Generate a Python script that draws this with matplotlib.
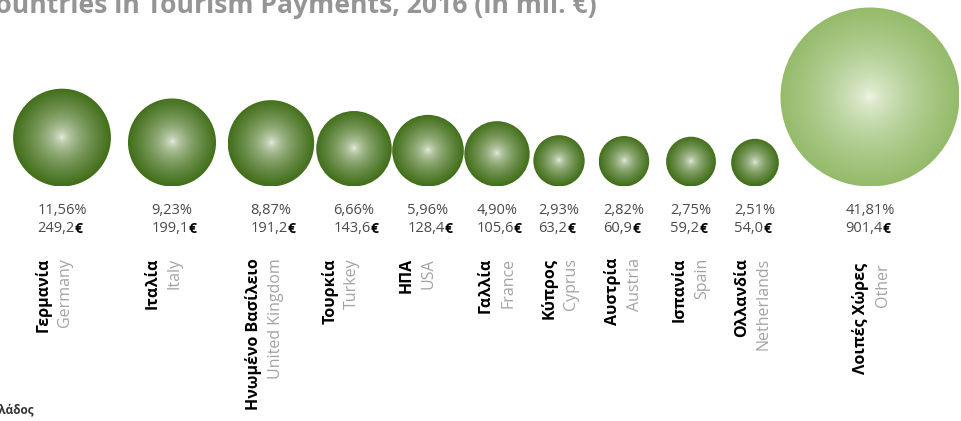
import numpy as np
import matplotlib
matplotlib.use('Agg')
import matplotlib.pyplot as plt
from matplotlib.patches import Circle
from matplotlib.colors import to_rgb

plt.rcParams['font.family'] = ['Open Sans', 'DejaVu Sans']

# data
greek = ['Γερμανία', 'Ιταλία', 'Ηνωμένο Βασίλειο', 'Τουρκία', 'ΗΠΑ', 'Γαλλία',
         'Κύπρος', 'Αυστρία', 'Ισπανία', 'Ολλανδία', 'Λοιπές Χώρες']
english = ['Germany', 'Italy', 'United Kingdom', 'Turkey', 'USA', 'France',
           'Cyprus', 'Austria', 'Spain', 'Netherlands', 'Other']
shares = [11.56, 9.23, 8.87, 6.66, 5.96, 4.90, 2.93, 2.82, 2.75, 2.51, 41.81]
payments = [249.2, 199.1, 191.2, 143.6, 128.4, 105.6, 63.2, 60.9, 59.2, 54.0, 901.4]

# layout (pixels)
col_x = [62, 172, 271, 354, 428, 497, 559, 624, 691, 755, 870]
lab_x = [54, 164, 265, 341, 418, 497, 560, 624, 691, 753, 872]
base_y = 186.5
r_max = 89.5

fig = plt.figure(figsize=(9.62, 4.21), dpi=100)
ax = fig.add_axes([0, 0, 1, 1])

def fmt(v, d):
    return f'{v:.{d}f}'.replace('.', ',')

# radial gradient ball
n = 200
yy, xx = np.mgrid[-1:1:n * 1j, -1:1:n * 1j]
dist = np.clip(np.sqrt(xx ** 2 + yy ** 2), 0, 1)

def ball(cx, cy, r, edge, centre, p):
    t = dist ** p
    e = np.array(to_rgb(edge))
    c = np.array(to_rgb(centre))
    img = c[None, None, :] * (1 - t[..., None]) + e[None, None, :] * t[..., None]
    im = ax.imshow(img, extent=(cx - r, cx + r, cy + r, cy - r), aspect='auto',
                   interpolation='bilinear', zorder=2)
    im.set_clip_path(Circle((cx, cy), r, transform=ax.transData))

vmax = max(payments)
for i, v in enumerate(payments):
    r = r_max * (v / vmax) ** 0.47
    if i == len(payments) - 1:
        ball(col_x[i], base_y - r, r, '#94bb6a', '#f4f8ec', 0.6)
    else:
        ball(col_x[i], base_y - r, r, '#426f1a', '#f4f6ee', 0.55)

    pct = ax.text(col_x[i], 210, fmt(shares[i], 2) + '%', ha='center', va='center',
                  fontsize=10.5, color='#4a4a4a')
    val = ax.annotate(fmt(v, 1), xy=(0, 0), xycoords=pct, xytext=(0, -2.5),
                      textcoords='offset points', ha='left', va='top',
                      fontsize=10.5, color='#4a4a4a')
    ax.annotate('€', xy=(1, 0), xycoords=val, ha='left', va='bottom',
                fontsize=10, color='black', fontweight='bold')

    top = 263 if i == len(payments) - 1 else 258
    ax.text(lab_x[i] - 11, top, greek[i], rotation=90, ha='center', va='top',
            fontsize=11.5, fontweight='bold', color='black')
    ax.text(lab_x[i] + 11, top, english[i], rotation=90, ha='center', va='top',
            fontsize=11.5, color='#a3a3a3')

ax.text(597, 13, 'Main Countries in Tourism Payments, 2016 (in mil. €)', ha='right',
        va='baseline', fontsize=19.1, fontweight='bold', color='#959595')
ax.text(34, 414, 'Πηγή: Τράπεζα της Ελλάδος', ha='right', va='baseline',
        fontsize=8.5, color='#333333', fontweight='bold')

ax.set_xlim(0, 962)
ax.set_ylim(421, 0)
ax.axis('off')

fig.savefig('out.png', dpi=100)
